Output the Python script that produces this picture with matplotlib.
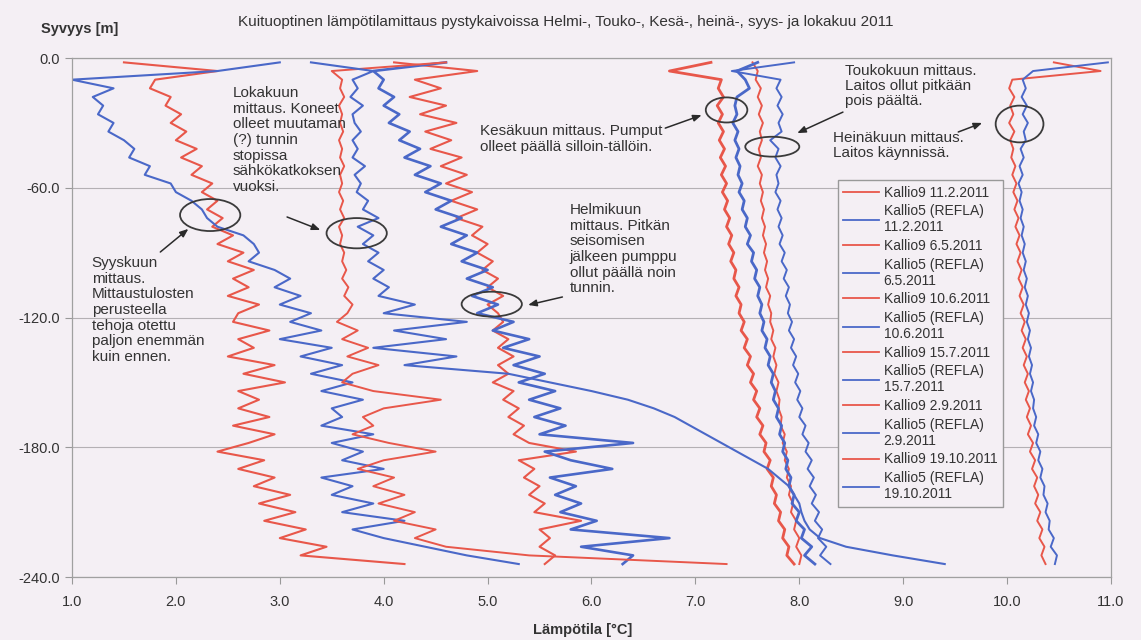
import numpy as np
import matplotlib
matplotlib.use('Agg')
import matplotlib.pyplot as plt
from matplotlib.patches import Ellipse

plt.rcParams['font.family'] = ['Liberation Sans', 'DejaVu Sans']
plt.rcParams['axes.unicode_minus'] = False

# depth grid [m], shared by all series (-2 ... -234)
depth = np.arange(-2, -238, -4)

# temperatures [C], one value per depth step
# Kallio9 / Kallio5 (REFLA) 11.2.2011
k9_feb = [4.10, 4.90, 4.30, 4.55, 4.25, 4.60, 4.35, 4.70, 4.40, 4.65,
          4.45, 4.75, 4.55, 4.80, 4.60, 4.85, 4.65, 4.90, 4.70, 4.95,
          4.85, 5.00, 4.90, 5.05, 4.95, 5.10, 5.00, 5.15, 5.00, 5.10,
          5.15, 5.05, 5.20, 5.10, 5.25, 5.10, 5.20, 5.05, 5.25, 5.15,
          5.30, 5.20, 5.35, 5.25, 5.40, 5.85, 5.30, 5.45, 5.35, 5.50,
          5.40, 5.55, 5.45, 5.90, 5.50, 5.60, 5.50, 5.65, 5.55]
k5_feb = [4.60, 3.90, 4.00, 3.95, 4.10, 4.00, 4.15, 4.05, 4.25, 4.15,
          4.35, 4.20, 4.45, 4.30, 4.55, 4.40, 4.65, 4.50, 4.75, 4.55,
          4.80, 4.65, 4.90, 4.75, 5.00, 4.80, 5.05, 4.85, 5.10, 4.90,
          5.25, 5.05, 5.40, 5.15, 5.50, 5.25, 5.55, 5.30, 5.65, 5.40,
          5.70, 5.45, 5.75, 5.50, 6.40, 5.55, 5.80, 6.20, 5.60, 5.85,
          5.65, 5.90, 5.70, 6.05, 5.80, 6.75, 5.90, 6.40, 6.30]
# 6.5.2011
k9_may = [7.55, 7.60, 7.58, 7.63, 7.60, 7.64, 7.61, 7.65, 7.62, 7.64,
          7.61, 7.63, 7.60, 7.64, 7.62, 7.65, 7.63, 7.66, 7.64, 7.67,
          7.65, 7.68, 7.66, 7.69, 7.67, 7.70, 7.68, 7.72, 7.70, 7.73,
          7.72, 7.75, 7.73, 7.77, 7.75, 7.78, 7.76, 7.80, 7.78, 7.81,
          7.80, 7.83, 7.82, 7.86, 7.84, 7.88, 7.86, 7.90, 7.88, 7.92,
          7.90, 7.94, 7.92, 7.97, 7.95, 8.00, 7.97, 8.02, 8.00]
k5_may = [7.95, 7.35, 7.82, 7.78, 7.83, 7.79, 7.84, 7.80, 7.83, 7.72,
          7.80, 7.77, 7.82, 7.78, 7.80, 7.77, 7.82, 7.79, 7.83, 7.80,
          7.84, 7.81, 7.86, 7.83, 7.88, 7.85, 7.90, 7.87, 7.91, 7.89,
          7.93, 7.90, 7.95, 7.92, 7.97, 7.94, 7.99, 7.96, 8.01, 7.98,
          8.03, 8.00, 8.06, 8.03, 8.09, 8.06, 8.12, 8.08, 8.14, 8.10,
          8.16, 8.12, 8.19, 8.15, 8.22, 8.18, 8.26, 8.20, 8.30]
# 10.6.2011
k9_jun = [7.15, 6.75, 7.25, 7.22, 7.27, 7.21, 7.26, 7.22, 7.27, 7.23,
          7.28, 7.24, 7.29, 7.25, 7.30, 7.26, 7.31, 7.28, 7.33, 7.30,
          7.35, 7.32, 7.37, 7.34, 7.39, 7.37, 7.42, 7.39, 7.44, 7.42,
          7.47, 7.44, 7.50, 7.47, 7.53, 7.50, 7.56, 7.53, 7.59, 7.56,
          7.62, 7.59, 7.65, 7.62, 7.68, 7.66, 7.72, 7.69, 7.75, 7.73,
          7.78, 7.76, 7.82, 7.80, 7.86, 7.84, 7.90, 7.88, 7.95]
k5_jun = [7.60, 7.40, 7.48, 7.52, 7.40, 7.38, 7.40, 7.36, 7.41, 7.38,
          7.42, 7.39, 7.43, 7.41, 7.45, 7.42, 7.47, 7.45, 7.50, 7.48,
          7.53, 7.50, 7.56, 7.54, 7.59, 7.57, 7.62, 7.60, 7.64, 7.62,
          7.66, 7.64, 7.69, 7.67, 7.72, 7.70, 7.75, 7.73, 7.77, 7.75,
          7.80, 7.78, 7.83, 7.81, 7.86, 7.84, 7.89, 7.87, 7.92, 7.90,
          7.95, 7.93, 8.00, 7.97, 8.05, 8.02, 8.12, 8.05, 8.15]
# 15.7.2011
k9_jul = [10.45, 10.90, 10.05, 10.02, 10.07, 10.03, 10.06, 10.02, 10.07, 10.03,
          10.06, 10.04, 10.08, 10.05, 10.09, 10.06, 10.10, 10.07, 10.11, 10.08,
          10.12, 10.09, 10.13, 10.10, 10.14, 10.11, 10.15, 10.12, 10.16, 10.13,
          10.17, 10.14, 10.18, 10.15, 10.19, 10.16, 10.20, 10.17, 10.21, 10.18,
          10.22, 10.19, 10.23, 10.20, 10.25, 10.22, 10.27, 10.24, 10.29, 10.26,
          10.30, 10.27, 10.32, 10.29, 10.34, 10.31, 10.36, 10.33, 10.37]
k5_jul = [10.97, 10.25, 10.15, 10.18, 10.14, 10.19, 10.15, 10.20, 10.16, 10.18,
          10.13, 10.16, 10.12, 10.15, 10.11, 10.14, 10.12, 10.15, 10.13, 10.16,
          10.14, 10.17, 10.15, 10.18, 10.16, 10.19, 10.17, 10.20, 10.18, 10.21,
          10.19, 10.22, 10.20, 10.23, 10.21, 10.24, 10.22, 10.25, 10.23, 10.26,
          10.25, 10.28, 10.26, 10.30, 10.28, 10.32, 10.30, 10.34, 10.32, 10.36,
          10.35, 10.39, 10.37, 10.41, 10.40, 10.45, 10.42, 10.48, 10.46]
# 2.9.2011
k9_sep = [1.50, 2.40, 1.80, 1.75, 1.95, 1.90, 2.05, 1.95, 2.10, 2.00,
          2.20, 2.05, 2.25, 2.15, 2.35, 2.25, 2.40, 2.30, 2.45, 2.35,
          2.55, 2.40, 2.65, 2.50, 2.75, 2.55, 2.70, 2.50, 2.80, 2.60,
          2.55, 2.90, 2.60, 2.75, 2.50, 2.95, 2.65, 3.05, 2.60, 2.80,
          2.60, 2.90, 2.55, 2.95, 2.70, 2.40, 2.85, 2.60, 2.95, 2.75,
          3.10, 2.80, 3.15, 2.85, 3.25, 3.00, 3.45, 3.20, 4.20]
k5_sep = [3.00, 2.40, 1.00, 1.40, 1.20, 1.30, 1.25, 1.40, 1.35, 1.50,
          1.60, 1.55, 1.75, 1.70, 1.95, 2.00, 2.15, 2.25, 2.30, 2.40,
          2.65, 2.75, 2.80, 2.70, 2.95, 3.10, 2.95, 3.20, 3.00, 3.30,
          3.10, 3.40, 3.00, 3.50, 3.20, 3.60, 3.30, 3.70, 3.40, 3.80,
          3.50, 3.60, 3.40, 3.90, 3.50, 3.80, 3.60, 4.00, 3.40, 3.70,
          3.50, 3.90, 3.60, 4.20, 3.70, 4.00, 4.40, 4.80, 5.30]
# 19.10.2011
k9_oct = [4.60, 3.50, 3.60, 3.58, 3.62, 3.57, 3.60, 3.58, 3.61, 3.57,
          3.60, 3.58, 3.62, 3.58, 3.60, 3.57, 3.61, 3.58, 3.62, 3.57,
          3.60, 3.58, 3.62, 3.60, 3.64, 3.60, 3.66, 3.62, 3.70, 3.65,
          3.55, 3.75, 3.60, 3.85, 3.65, 3.95, 3.70, 3.60, 3.90, 4.55,
          4.00, 3.80, 3.90, 3.70, 4.05, 4.50, 4.00, 3.75, 4.10, 3.90,
          4.20, 3.95, 4.30, 4.10, 4.50, 4.30, 4.60, 5.40, 7.30]
k5_oct = [3.30, 3.90, 3.70, 3.75, 3.68, 3.80, 3.70, 3.72, 3.78, 3.70,
          3.75, 3.70, 3.82, 3.72, 3.78, 3.74, 3.85, 3.80, 3.95, 3.75,
          3.90, 3.80, 3.95, 3.85, 4.00, 3.90, 4.05, 3.95, 4.30, 4.00,
          4.80, 4.10, 4.60, 3.90, 4.70, 4.20, 5.20, 5.60, 6.00, 6.35,
          6.60, 6.80, 6.95, 7.10, 7.25, 7.40, 7.55, 7.70, 7.80, 7.90,
          7.95, 8.00, 8.02, 8.05, 8.10, 8.20, 8.45, 8.90, 9.40]

dates = ['11.2.2011', '6.5.2011', '10.6.2011', '15.7.2011', '2.9.2011', '19.10.2011']
kallio9 = [k9_feb, k9_may, k9_jun, k9_jul, k9_sep, k9_oct]
kallio5 = [k5_feb, k5_may, k5_jun, k5_jul, k5_sep, k5_oct]
# the densely jittering traces look heavier in the scan
widths9 = [1.5, 1.4, 2.0, 1.4, 1.5, 1.4]
widths5 = [1.9, 1.4, 2.0, 1.4, 1.5, 1.5]

bg = '#f4eff4'
red = '#e8574a'
blue = '#4a68c8'
txt = '#333333'

fig = plt.figure(figsize=(11.41, 6.40), dpi=100, facecolor=bg)
ax = fig.add_axes([0.0631, 0.0984, 0.9106, 0.8109], facecolor=bg)

for d, t9, t5, w9, w5 in zip(dates, kallio9, kallio5, widths9, widths5):
    ax.plot(t9, depth, color=red, lw=w9, label='Kallio9 ' + d)
    ax.plot(t5, depth, color=blue, lw=w5, label='Kallio5 (REFLA)\n' + d)

ax.set_xlim(1, 11)
ax.set_ylim(-240, 0)
ax.set_xticks(np.arange(1, 12, 1))
ax.set_yticks(np.arange(-240, 1, 60))
ax.xaxis.set_major_formatter(plt.FormatStrFormatter('%.1f'))
ax.yaxis.set_major_formatter(plt.FormatStrFormatter('%.1f'))
ax.tick_params(colors='#999999', labelcolor=txt, labelsize=10.5, length=5, width=0.8)
ax.tick_params(axis='x', pad=8)
ax.grid(axis='y', color='#b4b0b4', lw=0.8)
for s in ax.spines.values():
    s.set_color('#a0a0a0')
    s.set_linewidth(0.9)

fig.text(0.496, 0.966, 'Kuituoptinen lämpötilamittaus pystykaivoissa Helmi-, Touko-, Kesä-, heinä-, syys- ja lokakuu 2011',
         ha='center', va='center', fontsize=11, color=txt)
fig.text(0.070, 0.955, 'Syvyys [m]', ha='center', va='center', fontsize=10.5, fontweight='bold', color=txt)
fig.text(0.511, 0.016, 'Lämpötila [°C]', ha='center', va='center', fontsize=10.5, fontweight='bold', color=txt)

leg = ax.legend(loc='upper left', bbox_to_anchor=(0.737, 0.765), fontsize=10, fancybox=False,
                edgecolor='#999999', facecolor=bg, framealpha=1, handlelength=2.6,
                handletextpad=0.3, labelspacing=0.33, borderpad=0.4, borderaxespad=0)
for t in leg.get_texts():
    t.set_color(txt)
for h in leg.get_lines():
    h.set_linewidth(1.3)

# notes: text, circle round the spot, arrow
fs = 11
ax.text(2.55, -12.9, 'Lokakuun\nmittaus. Koneet\nolleet muutaman\n(?) tunnin\nstopissa\nsähkökatkoksen\nvuoksi.',
        va='top', fontsize=fs, color=txt, linespacing=1.15)
ax.text(1.19, -91.5, 'Syyskuun\nmittaus.\nMittaustulosten\nperusteella\ntehoja otettu\npaljon enemmän\nkuin ennen.',
        va='top', fontsize=fs, color=txt, linespacing=1.15)
ax.text(4.93, -30.5, 'Kesäkuun mittaus. Pumput\nolleet päällä silloin-tällöin.',
        va='top', fontsize=fs, color=txt, linespacing=1.15)
ax.text(8.44, -2.8, 'Toukokuun mittaus.\nLaitos ollut pitkään\npois päältä.',
        va='top', fontsize=fs, color=txt, linespacing=1.1)
ax.text(8.32, -33.8, 'Heinäkuun mittaus.\nLaitos käynnissä.',
        va='top', fontsize=fs, color=txt, linespacing=1.1)
ax.text(5.79, -67, 'Helmikuun\nmittaus. Pitkän\nseisomisen\njälkeen pumppu\nollut päällä noin\ntunnin.',
        va='top', fontsize=fs, color=txt, linespacing=1.15)

circles = [(3.74, -81, 0.58, 14), (2.33, -72.6, 0.58, 14.8), (7.30, -24, 0.40, 11.6),
           (7.74, -41, 0.52, 9.2), (10.12, -30.5, 0.46, 17), (5.04, -113.8, 0.58, 11.5)]
for cx, cy, w, h in circles:
    ax.add_patch(Ellipse((cx, cy), w, h, fill=False, edgecolor='#3a3a3a', lw=1.3, zorder=5))

arrows = [((3.07, -73.5), (3.39, -79.5)), ((1.85, -89.7), (2.12, -79)),
          ((6.71, -32.4), (7.06, -26.4)), ((8.42, -25), (7.98, -34.7)),
          ((9.53, -34.2), (9.76, -30)), ((5.72, -110.5), (5.39, -114.2))]
for start, tip in arrows:
    ax.annotate('', xy=tip, xytext=start,
                arrowprops=dict(arrowstyle='-|>,head_length=0.5,head_width=0.2', color='#2a2a2a', lw=1.1,
                                shrinkA=0, shrinkB=0), zorder=6)

fig.savefig('out.png', dpi=100, facecolor=bg)
